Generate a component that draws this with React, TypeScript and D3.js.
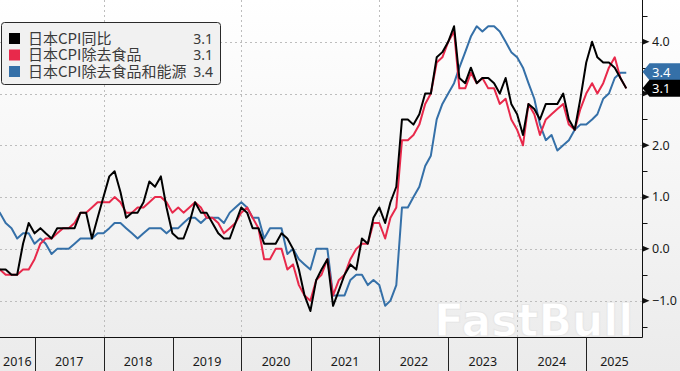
import React, { useRef, useEffect } from "react";
import * as d3 from "d3";

const width = 680;
const height = 371;
const plotRight = 642.5;
const plotBottom = 337.5;

// monthly data, May 2016 .. Jul 2025 (plotted at month end)
const firstMonth = new Date(2016, 4, 1);
const endMonth = new Date(2025, 7, 1);

// 日本CPI同比
const headline = [
  -0.4, -0.4, -0.4, -0.5, -0.5, 0.1, 0.5, 0.3,
  0.4, 0.3, 0.2, 0.4, 0.4, 0.4, 0.4, 0.7, 0.7, 0.2, 0.6, 1.0,
  1.4, 1.5, 1.1, 0.6, 0.7, 0.7, 0.9, 1.3, 1.2, 1.4, 0.8, 0.3,
  0.2, 0.2, 0.5, 0.9, 0.7, 0.7, 0.5, 0.3, 0.2, 0.2, 0.5, 0.8,
  0.7, 0.4, 0.4, 0.1, 0.1, 0.1, 0.3, 0.2, 0.0, -0.4, -0.9, -1.2,
  -0.6, -0.4, -0.2, -1.1, -0.8, -0.5, -0.3, -0.4, 0.2, 0.1, 0.6, 0.8,
  0.5, 0.9, 1.2, 2.5, 2.5, 2.4, 2.6, 3.0, 3.0, 3.7, 3.8, 4.0,
  4.3, 3.3, 3.2, 3.5, 3.2, 3.3, 3.3, 3.2, 3.0, 3.3, 2.8, 2.6,
  2.2, 2.8, 2.7, 2.5, 2.8, 2.8, 2.8, 3.0, 2.5, 2.3, 2.9, 3.6,
  4.0, 3.7, 3.6, 3.6, 3.5, 3.3, 3.1,
];

// 日本CPI除去食品
const core = [
  -0.4, -0.4, -0.5, -0.5, -0.5, -0.4, -0.4, -0.2,
  0.1, 0.2, 0.2, 0.3, 0.4, 0.4, 0.5, 0.7, 0.7, 0.8, 0.9, 0.9,
  0.9, 1.0, 0.9, 0.7, 0.7, 0.8, 0.8, 0.9, 1.0, 1.0, 0.9, 0.7,
  0.8, 0.7, 0.8, 0.9, 0.8, 0.6, 0.6, 0.5, 0.3, 0.4, 0.5, 0.7,
  0.8, 0.6, 0.4, -0.2, -0.2, 0.0, 0.0, -0.4, -0.3, -0.7, -0.9, -1.0,
  -0.6, -0.5, -0.2, -0.9, -0.6, -0.5, -0.2, 0.0, 0.1, 0.1, 0.5, 0.5,
  0.2, 0.6, 0.8, 2.1, 2.1, 2.2, 2.4, 2.8, 3.0, 3.6, 3.7, 4.0,
  4.2, 3.1, 3.1, 3.4, 3.2, 3.3, 3.1, 3.1, 2.8, 2.9, 2.5, 2.3,
  2.0, 2.8, 2.6, 2.2, 2.5, 2.6, 2.7, 2.8, 2.4, 2.3, 2.7, 3.0,
  3.2, 3.0, 3.2, 3.5, 3.7, 3.3, 3.1,
];

// 日本CPI除去食品和能源
const coreCore = [
  0.8, 0.7, 0.5, 0.4, 0.2, 0.3, 0.3, 0.1,
  0.2, 0.1, -0.1, 0.0, 0.0, 0.0, 0.1, 0.2, 0.2, 0.2, 0.3, 0.3,
  0.4, 0.5, 0.5, 0.4, 0.3, 0.2, 0.3, 0.4, 0.4, 0.4, 0.3, 0.4,
  0.4, 0.5, 0.6, 0.6, 0.5, 0.6, 0.6, 0.6, 0.5, 0.7, 0.8, 0.9,
  0.8, 0.6, 0.6, 0.2, 0.4, 0.4, 0.4, -0.1, 0.0, -0.2, -0.3, -0.4,
  0.0, 0.0, 0.0, -0.9, -0.9, -0.9, -0.6, -0.5, -0.5, -0.7, -0.6, -0.7,
  -1.1, -1.0, -0.7, 0.8, 0.8, 1.0, 1.2, 1.6, 1.8, 2.5, 2.8, 3.0,
  3.2, 3.5, 3.8, 4.1, 4.3, 4.2, 4.3, 4.3, 4.2, 4.0, 3.8, 3.7,
  3.5, 3.2, 2.9, 2.4, 2.1, 2.2, 1.9, 2.0, 2.1, 2.3, 2.4, 2.4,
  2.5, 2.6, 2.9, 3.0, 3.3, 3.4, 3.4,
];

const seriesNames = ["日本CPI同比", "日本CPI除去食品", "日本CPI除去食品和能源"];
const seriesColors = ["#000000", "#e8294b", "#3570a8"];
const latestLabels = ["3.1", "3.1", "3.4"];
const yTicks = [-1, 0, 1, 2, 3, 4];
const yTickLabels = [-1, 0, 1, 2, 4]; // 3.0 sits under the last-value tags
const yMinorTicks = [-1.5, -0.5, 0.5, 1.5, 2.5, 3.5, 4.5];
const years = [2016, 2017, 2018, 2019, 2020, 2021, 2022, 2023, 2024, 2025];
const gridYears = [2018, 2020, 2022, 2024];

const numFont = "'Noto Sans', 'DejaVu Sans', sans-serif";
const cjkFont = "'Noto Sans CJK SC', sans-serif";

const App = () => {
  const ref = useRef<SVGSVGElement>(null);

  useEffect(() => {
    const svg = d3.select(ref.current);
    svg.selectAll("*").remove();

    const x = d3
      .scaleTime()
      .domain([new Date(2016, 6, 1), new Date(2025, 9, 25)])
      .range([0, plotRight]);
    const y = d3.scaleLinear().domain([-1.712, 4.807]).range([plotBottom, 0]);

    const months = d3.timeMonth.range(firstMonth, endMonth);
    const monthEnd = (d: Date) => new Date(d.getFullYear(), d.getMonth() + 1, 0);

    const defs = svg.append("defs");
    const grad = defs
      .append("linearGradient")
      .attr("id", "bg")
      .attr("x1", 0)
      .attr("y1", 0)
      .attr("x2", 0)
      .attr("y2", 1);
    grad.append("stop").attr("offset", "0%").attr("stop-color", "#ffffff");
    grad.append("stop").attr("offset", "100%").attr("stop-color", "#ebebeb");
    defs
      .append("clipPath")
      .attr("id", "plot")
      .append("rect")
      .attr("x", 0)
      .attr("y", 0)
      .attr("width", plotRight)
      .attr("height", plotBottom);

    svg.append("rect").attr("width", width).attr("height", height).attr("fill", "url(#bg)");

    // watermark
    svg
      .append("text")
      .attr("clip-path", "url(#plot)")
      .attr("x", 434)
      .attr("y", 336)
      .attr("font-family", "'DejaVu Sans', sans-serif")
      .attr("font-weight", "bold")
      .attr("font-size", 44)
      .attr("fill", "#ffffff")
      .attr("stroke", "#e6e6e6")
      .attr("stroke-width", 1)
      .text("FastBull");

    // grid
    const grid = svg.append("g").attr("stroke", "#bdbdbd").attr("stroke-dasharray", "2,3");
    grid
      .selectAll("line.h")
      .data(yTicks)
      .join("line")
      .attr("class", "h")
      .attr("x1", 0)
      .attr("x2", plotRight)
      .attr("y1", (d) => Math.round(y(d)) + 0.5)
      .attr("y2", (d) => Math.round(y(d)) + 0.5);
    grid
      .selectAll("line.v")
      .data(gridYears)
      .join("line")
      .attr("class", "v")
      .attr("y1", 0)
      .attr("y2", plotBottom)
      .attr("x1", (d) => Math.round(x(new Date(d, 0, 1))) + 0.5)
      .attr("x2", (d) => Math.round(x(new Date(d, 0, 1))) + 0.5);

    // lines
    const line = d3
      .line<number>()
      .x((_, i) => x(monthEnd(months[i])))
      .y((d) => y(d));
    const lines = svg.append("g").attr("clip-path", "url(#plot)");
    [coreCore, core, headline].forEach((s, k) => {
      lines
        .append("path")
        .datum(s)
        .attr("fill", "none")
        .attr("stroke", seriesColors[2 - k])
        .attr("stroke-width", 2)
        .attr("stroke-linejoin", "round")
        .attr("d", line);
    });

    // frame
    svg
      .append("path")
      .attr("d", `M0,${plotBottom}H${plotRight}V0`)
      .attr("fill", "none")
      .attr("stroke", "#111");

    // x axis: year separators and labels
    const xAxis = svg.append("g");
    xAxis
      .selectAll("line")
      .data(years.filter((d) => x(new Date(d, 0, 1)) > 0))
      .join("line")
      .attr("x1", (d) => Math.round(x(new Date(d, 0, 1))) + 0.5)
      .attr("x2", (d) => Math.round(x(new Date(d, 0, 1))) + 0.5)
      .attr("y1", plotBottom)
      .attr("y2", height)
      .attr("stroke", "#222");
    xAxis
      .selectAll("text")
      .data(years)
      .join("text")
      .attr("x", (d) => {
        const a = Math.max(0, x(new Date(d, 0, 1)));
        const b = Math.min(plotRight, x(new Date(d + 1, 0, 1)));
        return (a + b) / 2;
      })
      .attr("y", 366)
      .attr("text-anchor", "middle")
      .attr("font-family", numFont)
      .attr("font-size", 12.5)
      .attr("fill", "#1a1a1a")
      .text((d) => d);

    // y axis on the right
    const yAxis = svg.append("g");
    yAxis
      .selectAll("path")
      .data(yTicks)
      .join("path")
      .attr("d", (d) => `M${plotRight},${y(d) - 3}L${plotRight + 7},${y(d)}L${plotRight},${y(d) + 3}Z`)
      .attr("fill", "#111");
    yAxis
      .selectAll("line")
      .data(yMinorTicks)
      .join("line")
      .attr("x1", plotRight)
      .attr("x2", plotRight + 5)
      .attr("y1", (d) => Math.round(y(d)) + 0.5)
      .attr("y2", (d) => Math.round(y(d)) + 0.5)
      .attr("stroke", "#111");
    yAxis
      .selectAll("text")
      .data(yTickLabels)
      .join("text")
      .attr("x", 652)
      .attr("y", (d) => y(d))
      .attr("dy", "0.35em")
      .attr("font-family", numFont)
      .attr("font-size", 12.5)
      .attr("fill", "#1a1a1a")
      .text((d) => d3.format(".1f")(d).replace("-", "\u2212"));

    // last value tags (red tag is hidden under the black one, same value)
    const lastVals = [headline, core, coreCore].map((s) => s[s.length - 1]);
    const tags = svg.append("g");
    [2, 0].forEach((k) => {
      const cy = y(lastVals[k]) + (k === 2 ? -1 : 0);
      const g = tags.append("g");
      g.append("path")
        .attr("d", `M${plotRight},${cy}L${plotRight + 7},${cy - 8.5}H${width}V${cy + 8.5}H${plotRight + 7}Z`)
        .attr("fill", seriesColors[k]);
      g.append("text")
        .attr("x", 652)
        .attr("y", cy)
        .attr("dy", "0.36em")
        .attr("font-family", numFont)
        .attr("font-size", 13)
        .attr("fill", "#ffffff")
        .text(latestLabels[k]);
    });

    // legend
    const legend = svg.append("g");
    legend
      .append("rect")
      .attr("x", 1.5)
      .attr("y", 22.5)
      .attr("width", 219)
      .attr("height", 62)
      .attr("rx", 3)
      .attr("fill", "#f1f1f1")
      .attr("stroke", "#2a2a2a");
    const rows = legend
      .selectAll("g")
      .data(seriesNames)
      .join("g")
      .attr("transform", (_, i) => `translate(0,${38.5 + i * 16.5})`);
    rows
      .append("rect")
      .attr("x", 9)
      .attr("y", -5.5)
      .attr("width", 11)
      .attr("height", 11)
      .attr("fill", (_, i) => seriesColors[i]);
    rows
      .append("text")
      .attr("x", 28)
      .attr("dy", "0.36em")
      .attr("font-family", cjkFont)
      .attr("font-size", 15)
      .attr("fill", "#3a3a3a")
      .text((d) => d);
    rows
      .append("text")
      .attr("x", 213)
      .attr("dy", "0.36em")
      .attr("text-anchor", "end")
      .attr("font-family", numFont)
      .attr("font-size", 14)
      .attr("fill", "#3a3a3a")
      .text((_, i) => latestLabels[i]);
  }, []);

  return (
    <svg
      ref={ref}
      width={width}
      height={height}
      style={{ position: "absolute", left: 0, top: 0, display: "block" }}
    ></svg>
  );
};

export default App;
